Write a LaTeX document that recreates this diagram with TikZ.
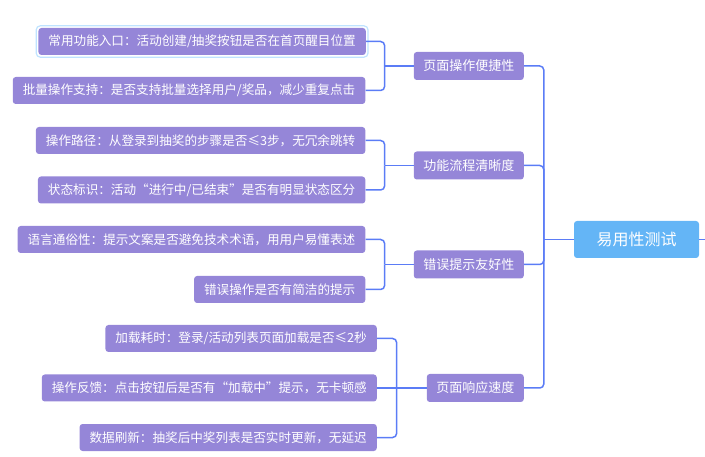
\documentclass[tikz,border=0pt]{standalone}
\usepackage{fontspec}
\setmainfont{Noto Sans CJK SC}
\usetikzlibrary{positioning,calc}
\definecolor{leafpurple}{HTML}{9586D8}
\definecolor{rootblue}{HTML}{64B5F6}
\definecolor{linkblue}{HTML}{5B7CF6}
\definecolor{selblue}{HTML}{BFE3FF}

\begin{document}
\begin{tikzpicture}[x=1pt,y=-1pt,
  leaf/.style={rectangle,rounded corners=3pt,fill=leafpurple,text=white,font=\fontsize{12.6}{15}\selectfont,minimum height=27pt,inner xsep=10pt,inner ysep=0pt,anchor=east},
  branch/.style={leaf,font=\fontsize{13}{15}\selectfont,minimum height=28pt,inner xsep=9.5pt},
  root/.style={rectangle,rounded corners=3pt,fill=rootblue,text=white,font=\fontsize{16}{18}\selectfont,minimum width=125pt,minimum height=37pt},
  link/.style={draw=linkblue,line width=1.5pt},
  elbow/.style={link,rounded corners=4pt}]
\useasboundingbox (0,0) rectangle (705,457);
\node[root] (usab) at (636.5,239.5) {易用性测试};
\node[branch] (conv) at (524,66) {页面操作便捷性};
\node[branch] (flow) at (524,165.5) {功能流程清晰度};
\node[branch] (err) at (524,264.5) {错误提示友好性};
\node[branch] (speed) at (524,388) {页面响应速度};
\node[leaf] (entry) at (366,41.5) {常用功能入口：活动创建/抽奖按钮是否在首页醒目位置};
\node[leaf] (batch) at (365.5,90.5) {批量操作支持：是否支持批量选择用户/奖品，减少重复点击};
\node[leaf] (path) at (365.5,140.5) {操作路径：从登录到抽奖的步骤是否≤3步，无冗余跳转};
\node[leaf] (state) at (365.5,190) {状态标识：活动“进行中/已结束”是否有明显状态区分};
\node[leaf] (lang) at (365.5,239.5) {语言通俗性：提示文案是否避免技术术语，用用户易懂表述};
\node[leaf] (wrong) at (365.5,289.5) {错误操作是否有简洁的提示};
\node[leaf] (load) at (377,338.5) {加载耗时：登录/活动列表页面加载是否≤2秒};
\node[leaf] (fb) at (377,388) {操作反馈：点击按钮后是否有“加载中”提示，无卡顿感};
\node[leaf] (refresh) at (377,437.5) {数据刷新：抽奖后中奖列表是否实时更新，无延迟};
\draw[selblue,line width=1.2pt,rounded corners=4pt] ([shift={(-2,-2)}]entry.north west) rectangle ([shift={(2,2)}]entry.south east);
\coordinate (trunk) at ($(usab.west)+(-30,0)$);
\coordinate (out) at (705,239.5);
\draw[link] (usab.west) -- (trunk);
\draw[link] (usab.east) -- (out);
\draw[elbow] (trunk) |- (conv.east);
\draw[elbow] (trunk) |- (flow.east);
\draw[elbow] (trunk) |- (err.east);
\draw[elbow] (trunk) |- (speed.east);
\coordinate (j1) at ($(conv.west)+(-29,0)$);
\draw[link] (conv.west) -- (j1);
\draw[elbow] (j1) |- (entry.east);
\draw[elbow] (j1) |- (batch.east);
\coordinate (j2) at ($(flow.west)+(-29,0)$);
\draw[link] (flow.west) -- (j2);
\draw[elbow] (j2) |- (path.east);
\draw[elbow] (j2) |- (state.east);
\coordinate (j3) at ($(err.west)+(-29,0)$);
\draw[link] (err.west) -- (j3);
\draw[elbow] (j3) |- (lang.east);
\draw[elbow] (j3) |- (wrong.east);
\coordinate (j4) at ($(speed.west)+(-30,0)$);
\draw[link] (speed.west) -- (fb.east);
\draw[elbow] (j4) |- (load.east);
\draw[elbow] (j4) |- (refresh.east);
\end{tikzpicture}
\end{document}
